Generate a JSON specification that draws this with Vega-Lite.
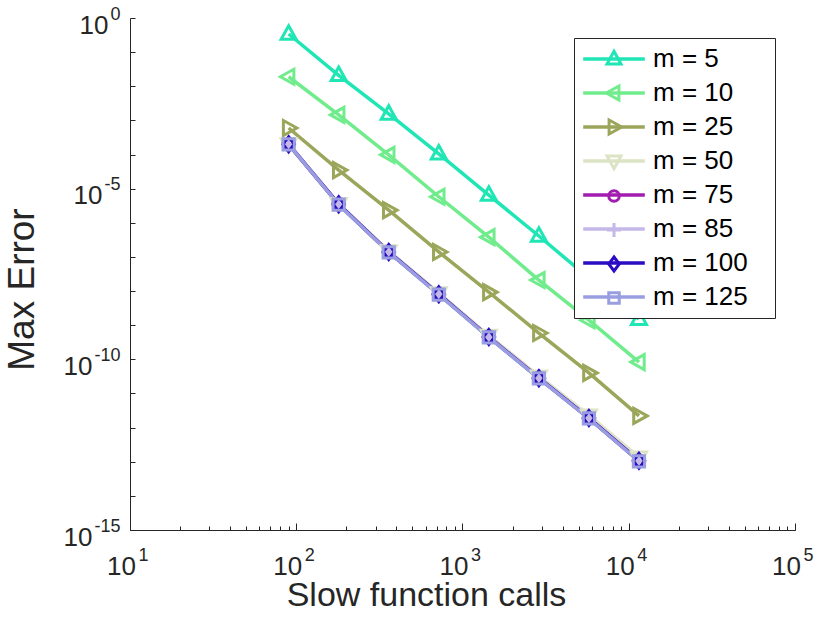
{
  "$schema": "https://vega.github.io/schema/vega-lite/v6.json",
  "width": 665,
  "height": 512,
  "autosize": {"type": "none"},
  "padding": {"left": 130, "top": 18, "right": 24, "bottom": 95},
  "background": "white",
  "data": {
    "values": [
      {"series": "m = 5", "calls": 90, "err": 0.34},
      {"series": "m = 5", "calls": 180, "err": 2.1e-2},
      {"series": "m = 5", "calls": 360, "err": 1.55e-3},
      {"series": "m = 5", "calls": 720, "err": 1.05e-4},
      {"series": "m = 5", "calls": 1440, "err": 6.5e-6},
      {"series": "m = 5", "calls": 2880, "err": 4.1e-7},
      {"series": "m = 5", "calls": 5760, "err": 2.4e-8},
      {"series": "m = 5", "calls": 11520, "err": 1.5e-9},
      {"series": "m = 10", "calls": 90, "err": 1.9e-2},
      {"series": "m = 10", "calls": 180, "err": 1.45e-3},
      {"series": "m = 10", "calls": 360, "err": 9.8e-5},
      {"series": "m = 10", "calls": 720, "err": 5.8e-6},
      {"series": "m = 10", "calls": 1440, "err": 3.8e-7},
      {"series": "m = 10", "calls": 2880, "err": 2.1e-8},
      {"series": "m = 10", "calls": 5760, "err": 1.4e-9},
      {"series": "m = 10", "calls": 11520, "err": 8.3e-11},
      {"series": "m = 25", "calls": 90, "err": 6.0e-4},
      {"series": "m = 25", "calls": 180, "err": 3.5e-5},
      {"series": "m = 25", "calls": 360, "err": 2.35e-6},
      {"series": "m = 25", "calls": 720, "err": 1.4e-7},
      {"series": "m = 25", "calls": 1440, "err": 9.3e-9},
      {"series": "m = 25", "calls": 2880, "err": 5.9e-10},
      {"series": "m = 25", "calls": 5760, "err": 4.0e-11},
      {"series": "m = 25", "calls": 11520, "err": 2.2e-12},
      {"series": "m = 50", "calls": 90, "err": 2.05e-4},
      {"series": "m = 50", "calls": 180, "err": 3.6e-6},
      {"series": "m = 50", "calls": 360, "err": 1.5e-7},
      {"series": "m = 50", "calls": 720, "err": 8.8e-9},
      {"series": "m = 50", "calls": 1440, "err": 5.0e-10},
      {"series": "m = 50", "calls": 2880, "err": 3.2e-11},
      {"series": "m = 50", "calls": 5760, "err": 2.3e-12},
      {"series": "m = 50", "calls": 11520, "err": 1.35e-13},
      {"series": "m = 75", "calls": 90, "err": 2.0e-4},
      {"series": "m = 75", "calls": 180, "err": 3.5e-6},
      {"series": "m = 75", "calls": 360, "err": 1.4e-7},
      {"series": "m = 75", "calls": 720, "err": 8.2e-9},
      {"series": "m = 75", "calls": 1440, "err": 4.6e-10},
      {"series": "m = 75", "calls": 2880, "err": 2.85e-11},
      {"series": "m = 75", "calls": 5760, "err": 1.9e-12},
      {"series": "m = 75", "calls": 11520, "err": 1.08e-13},
      {"series": "m = 85", "calls": 90, "err": 1.98e-4},
      {"series": "m = 85", "calls": 180, "err": 3.45e-6},
      {"series": "m = 85", "calls": 360, "err": 1.38e-7},
      {"series": "m = 85", "calls": 720, "err": 8.0e-9},
      {"series": "m = 85", "calls": 1440, "err": 4.5e-10},
      {"series": "m = 85", "calls": 2880, "err": 2.8e-11},
      {"series": "m = 85", "calls": 5760, "err": 1.85e-12},
      {"series": "m = 85", "calls": 11520, "err": 1.05e-13},
      {"series": "m = 100", "calls": 90, "err": 2.0e-4},
      {"series": "m = 100", "calls": 180, "err": 3.5e-6},
      {"series": "m = 100", "calls": 360, "err": 1.4e-7},
      {"series": "m = 100", "calls": 720, "err": 8.1e-9},
      {"series": "m = 100", "calls": 1440, "err": 4.5e-10},
      {"series": "m = 100", "calls": 2880, "err": 2.8e-11},
      {"series": "m = 100", "calls": 5760, "err": 1.9e-12},
      {"series": "m = 100", "calls": 11520, "err": 1.06e-13},
      {"series": "m = 125", "calls": 90, "err": 1.97e-4},
      {"series": "m = 125", "calls": 180, "err": 3.4e-6},
      {"series": "m = 125", "calls": 360, "err": 1.37e-7},
      {"series": "m = 125", "calls": 720, "err": 7.9e-9},
      {"series": "m = 125", "calls": 1440, "err": 4.4e-10},
      {"series": "m = 125", "calls": 2880, "err": 2.75e-11},
      {"series": "m = 125", "calls": 5760, "err": 1.85e-12},
      {"series": "m = 125", "calls": 11520, "err": 1.03e-13}
    ]
  },
  "layer": [
    {
      "transform": [{"filter": {"field": "series", "oneOf": ["m = 5", "m = 10", "m = 25"]}}],
      "mark": {"type": "line", "strokeWidth": 3.5},
      "encoding": {
        "x": {
          "field": "calls", "type": "quantitative",
          "scale": {"type": "log", "domain": [10, 100000], "nice": false},
          "axis": {
            "orient": "bottom",
            "values": [10, 100, 1000, 10000, 100000],
            "labels": false,
            "tickSize": -7,
            "title": "Slow function calls",
            "titleFont": "Liberation Sans",
            "titleFontSize": 34,
            "titleFontWeight": "normal",
            "titleColor": "#262626",
            "titleX": 296,
            "titleY": 75,
            "titleAlign": "center",
            "titleBaseline": "alphabetic"
          }
        },
        "y": {
          "field": "err", "type": "quantitative",
          "scale": {"type": "log", "domain": [1e-15, 1], "nice": false},
          "axis": {
            "orient": "left",
            "values": [1, 1e-1, 1e-2, 1e-3, 1e-4, 1e-5, 1e-6, 1e-7, 1e-8, 1e-9, 1e-10, 1e-11, 1e-12, 1e-13, 1e-14, 1e-15],
            "tickSize": -5,
            "labelExpr": "datum.value > 0.1 ? '10' : ''",
            "labelFont": "Liberation Sans",
            "labelFontSize": 26,
            "labelColor": "#262626",
            "labelAlign": "right",
            "labelBaseline": "alphabetic",
            "labelPadding": 27,
            "labelOffset": 15,
            "labelFlush": false,
            "labelOverlap": false,
            "title": "Max Error",
            "titleFont": "Liberation Sans",
            "titleFontSize": 37,
            "titleFontWeight": "normal",
            "titleColor": "#262626",
            "titleAngle": 270,
            "titleX": -97,
            "titleY": 271,
            "titleAlign": "center",
            "titleBaseline": "alphabetic"
          }
        },
        "color": {
          "field": "series",
          "type": "nominal",
          "scale": {
            "domain": ["m = 5", "m = 10", "m = 25", "m = 50", "m = 75", "m = 85", "m = 100", "m = 125"],
            "range": ["#1fe6b4", "#70ec8c", "#9ba65b", "#dde3c5", "#a21cb0", "#c4b8e8", "#2b0cc2", "#999ee0"]
          },
          "legend": {
            "orient": "none",
            "legendX": 444,
            "legendY": 20,
            "title": null,
            "strokeColor": "#262626",
            "fillColor": "white",
            "padding": 8,
            "labelFont": "Liberation Sans",
            "labelFontSize": 26,
            "labelColor": "#000000",
            "labelExpr": "datum.label + '\u2800'",
            "symbolType": "M-4.4,0H4.4",
            "symbolSize": 196,
            "symbolStrokeWidth": 3.5,
            "symbolOffset": 19,
            "labelOffset": 26,
            "rowPadding": 8
          }
        }
      }
    },
    {
      "transform": [{"filter": {"field": "series", "oneOf": ["m = 50", "m = 75", "m = 85", "m = 100", "m = 125"]}}],
      "mark": {"type": "line", "strokeWidth": 3.5},
      "encoding": {
        "x": {
          "field": "calls", "type": "quantitative",
          "axis": {
            "orient": "bottom",
            "domain": false,
            "values": [10, 20, 30, 40, 50, 60, 70, 80, 90, 100, 200, 300, 400, 500, 600, 700, 800, 900, 1000, 2000, 3000, 4000, 5000, 6000, 7000, 8000, 9000, 10000, 20000, 30000, 40000, 50000, 60000, 70000, 80000, 90000, 100000],
            "tickSize": -4,
            "labelExpr": "abs(log(datum.value)/LN10 - round(log(datum.value)/LN10)) < 1e-9 ? '10' : ''",
            "labelFont": "Liberation Sans",
            "labelFontSize": 26,
            "labelColor": "#262626",
            "labelBaseline": "alphabetic",
            "labelPadding": 48,
            "labelOffset": -9,
            "labelFlush": false,
            "labelOverlap": false,
            "title": null
          }
        },
        "y": {
          "field": "err", "type": "quantitative",
          "axis": {
            "orient": "left",
            "domain": false,
            "ticks": false,
            "values": [1e-5],
            "labelExpr": "'10'",
            "labelFont": "Liberation Sans",
            "labelFontSize": 26,
            "labelColor": "#262626",
            "labelAlign": "right",
            "labelBaseline": "alphabetic",
            "labelPadding": 28,
            "labelOffset": 15,
            "labelFlush": false,
            "labelOverlap": false,
            "title": null
          }
        },
        "color": {"field": "series", "type": "nominal", "legend": null}
      }
    },
    {
      "transform": [{"filter": {"field": "series", "oneOf": ["m = 5", "m = 10", "m = 25"]}}],
      "mark": {"type": "point", "filled": false, "strokeWidth": 3, "size": 225, "opacity": 1},
      "encoding": {
        "x": {
          "field": "calls", "type": "quantitative",
          "axis": {
            "orient": "bottom",
            "domain": false,
            "ticks": false,
            "values": [10, 100, 1000, 10000, 100000],
            "labelExpr": "'' + round(log(datum.value)/LN10)",
            "labelFont": "Liberation Sans",
            "labelFontSize": 18,
            "labelColor": "#262626",
            "labelBaseline": "alphabetic",
            "labelPadding": 30,
            "labelOffset": 13,
            "labelFlush": false,
            "labelOverlap": false,
            "title": null
          }
        },
        "y": {
          "field": "err", "type": "quantitative",
          "axis": {
            "orient": "left",
            "domain": false,
            "ticks": false,
            "values": [1e-10, 1e-15],
            "labelExpr": "'10'",
            "labelFont": "Liberation Sans",
            "labelFontSize": 26,
            "labelColor": "#262626",
            "labelAlign": "right",
            "labelBaseline": "alphabetic",
            "labelPadding": 38,
            "labelOffset": 15,
            "labelFlush": false,
            "labelOverlap": false,
            "title": null
          }
        },
        "color": {
          "field": "series",
          "type": "nominal",
          "legend": {
            "orient": "none",
            "legendX": 444,
            "legendY": 20,
            "title": null,
            "padding": 8,
            "labelFont": "Liberation Sans",
            "labelFontSize": 26,
            "labelOpacity": 0,
            "labelExpr": "datum.label + '\u2800'",
            "symbolSize": 196,
            "symbolStrokeWidth": 3,
            "symbolOffset": 19,
            "labelOffset": 26,
            "rowPadding": 8
          }
        },
        "shape": {
          "field": "series",
          "type": "nominal",
          "scale": {
            "domain": ["m = 5", "m = 10", "m = 25", "m = 50", "m = 75", "m = 85", "m = 100", "m = 125"],
            "range": ["M0,-1.1L1,0.7L-1,0.7Z", "M-1.1,0L0.7,-1L0.7,1Z", "M1.1,0L-0.7,-1L-0.7,1Z", "M0,1.1L1,-0.7L-1,-0.7Z", "M0.75,0A0.75,0.75,0,1,1,-0.75,0A0.75,0.75,0,1,1,0.75,0Z", "M-1,0H1M0,-1V1", "M0,-1L0.75,0L0,1L-0.75,0Z", "M-0.75,-0.75H0.75V0.75H-0.75Z"]
          },
          "legend": {
            "orient": "none",
            "legendX": 444,
            "legendY": 20,
            "title": null,
            "padding": 8,
            "labelFont": "Liberation Sans",
            "labelFontSize": 26,
            "labelOpacity": 0,
            "labelExpr": "datum.label + '\u2800'",
            "symbolSize": 196,
            "symbolStrokeWidth": 3,
            "symbolOffset": 19,
            "labelOffset": 26,
            "rowPadding": 8
          }
        }
      }
    },
    {
      "transform": [{"filter": {"field": "series", "oneOf": ["m = 50", "m = 75", "m = 85", "m = 100", "m = 125"]}}],
      "mark": {"type": "point", "filled": false, "strokeWidth": 3, "size": 225, "opacity": 1},
      "encoding": {
        "x": {"field": "calls", "type": "quantitative", "axis": null},
        "y": {
          "field": "err", "type": "quantitative",
          "axis": {
            "orient": "left",
            "domain": false,
            "ticks": false,
            "values": [1, 1e-5, 1e-10, 1e-15],
            "labelExpr": "'' + round(log(datum.value)/LN10)",
            "labelFont": "Liberation Sans",
            "labelFontSize": 18,
            "labelColor": "#262626",
            "labelAlign": "right",
            "labelBaseline": "alphabetic",
            "labelPadding": 10,
            "labelOffset": 1,
            "labelFlush": false,
            "labelOverlap": false,
            "title": null
          }
        },
        "color": {"field": "series", "type": "nominal", "legend": null},
        "shape": {"field": "series", "type": "nominal", "legend": null}
      }
    }
  ],
  "resolve": {
    "axis": {"x": "independent", "y": "independent"},
    "legend": {"color": "independent", "shape": "independent"}
  },
  "config": {
    "view": {"stroke": null},
    "font": "Liberation Sans",
    "axis": {"grid": false, "domainColor": "#262626", "tickColor": "#262626", "domainWidth": 1, "tickWidth": 1}
  }
}
